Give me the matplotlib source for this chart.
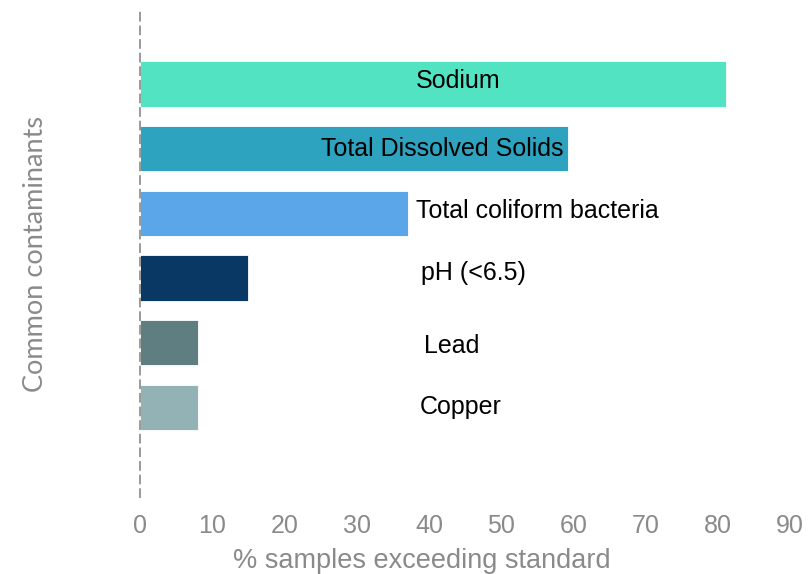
import matplotlib.pyplot as plt

contaminants = ['Sodium', 'Total Dissolved Solids', 'Total coliform bacteria',
                'pH (<6.5)', 'Lead', 'Copper']
pct_exceeding = [81.2, 59.2, 37.1, 14.9, 8.0, 8.0]
bar_colors = ['#52E3C2', '#2EA3BF', '#5AA6E8', '#083863', '#5E7E82', '#93B2B5']

# where each label sits (x in data units, horizontal alignment, y nudge)
label_x = [44.0, 58.6, 38.2, 38.9, 39.3, 38.8]
label_ha = ['center', 'right', 'left', 'left', 'left', 'left']
label_dy = [-0.04, 0.0, -0.03, -0.08, 0.06, 0.0]

fig = plt.figure(figsize=(8.11, 5.74), dpi=100)
ax = fig.add_axes([140 / 811, 1 - 497 / 574, 650 / 811, (497 - 12) / 574])

ypos = list(range(len(contaminants)))
ax.barh(ypos, pct_exceeding, height=0.70, color=bar_colors,
        edgecolor='white', linewidth=0.6, zorder=2)

sans = ['Liberation Sans', 'DejaVu Sans']
for i, name in enumerate(contaminants):
    ax.text(label_x[i], ypos[i] + label_dy[i], name, ha=label_ha[i], va='center',
            fontsize=18, family=sans, color='black', zorder=3)

ax.set_xlim(0, 90)
ax.set_ylim(6.39, -1.115)
ax.set_xticks(range(0, 91, 10))
ax.set_yticks([])
ax.tick_params(axis='x', length=0, pad=12, labelsize=18, labelcolor='#8a8a8a')
for lab in ax.get_xticklabels():
    lab.set_family(sans)

for side in ['top', 'right', 'bottom']:
    ax.spines[side].set_visible(False)
ax.spines['left'].set_linestyle((0, (4, 3)))
ax.spines['left'].set_color('#9a9a9a')
ax.spines['left'].set_linewidth(1.4)

ax.set_xlabel('% samples exceeding standard', fontsize=19.5, color='#8a8a8a',
              family=sans)
ax.xaxis.set_label_coords(0.434, -0.105)
ax.set_ylabel('Common contaminants', fontsize=19.5, color='#8a8a8a',
              family=['Lato', 'DejaVu Sans'], labelpad=66)

fig.savefig('out.png', dpi=100, facecolor='white')
